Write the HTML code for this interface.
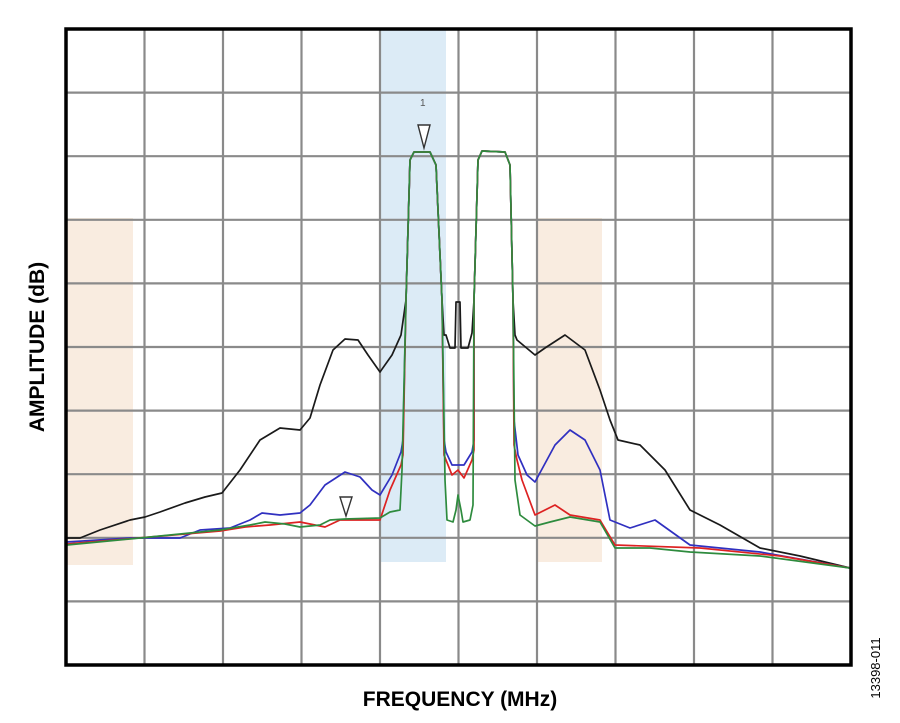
<!DOCTYPE html>
<html><head><style>
body{margin:0;background:#fff;width:900px;height:718px;overflow:hidden}
</style></head><body>
<svg width="900" height="718" viewBox="0 0 900 718" xmlns="http://www.w3.org/2000/svg">
<rect x="380" y="30" width="66" height="532" fill="#dcebf6"/>
<rect x="67" y="218" width="66" height="347" fill="#f9ece0"/>
<rect x="536" y="218" width="66" height="344" fill="#f9ece0"/>
<g stroke="#8a8a8a" stroke-width="2.2" fill="none">
<path d="M144.5 29V665M223 29V665M301.5 29V665M380 29V665M458.5 29V665M537 29V665M615.5 29V665M694 29V665M772.5 29V665"/>
<path d="M66 92.6H851M66 156.2H851M66 219.8H851M66 283.4H851M66 347H851M66 410.6H851M66 474.2H851M66 537.8H851M66 601.4H851"/>
</g>
<g fill="none" stroke-width="1.7" stroke-linejoin="round">
<path stroke="#1a1a1a" d="M67 538L80 538L100 530L130 520L145 517L160 512L185 503L205 497L222 493L240 470L260 440L280 428L300 430L310 418L320 385L333 350L345 339L358 340L368 355L380 372L392 355L401 335L406 300L410 160L414 152L430 152L436 165L442 300L444 335L446 335L450 348L455 348L456 302L460 302L461 348L468 348L472 333L474 300L478 160L482 151L505 152L510 165L513 300L515 335L517 340L535 355L545 348L565 335L585 350L600 390L610 420L618 440L640 445L665 470L690 510L720 525L760 548L800 556L850 568"/>
<path stroke="#3030c0" d="M67 542L130 538L180 538L200 530L230 528L250 520L262 513L280 515L300 513L310 505L325 485L345 472L360 477L372 490L380 495L392 475L401 452L403 440L406 300L410 160L414 152L430 152L436 165L442 300L444 440L446 452L452 465L458 465L464 465L472 452L474 440L474 300L478 160L482 151L505 152L510 165L513 300L514 420L518 455L527 475L535 482L555 445L570 430L585 440L600 470L610 520L630 528L655 520L690 545L760 552L850 568"/>
<path stroke="#d22" d="M67 544L150 537L220 531L245 527L270 525L300 522L325 527L340 520L365 520L380 520L390 490L401 465L403 455L406 300L410 160L414 152L430 152L436 165L442 300L444 455L446 460L452 475L458 470L464 478L472 460L474 450L474 300L478 160L482 151L505 152L510 165L513 300L514 445L517 460L522 480L535 515L555 505L570 515L600 520L615 545L700 548L780 556L850 568"/>
<path stroke="#2e8b3e" d="M67 545L150 537L220 530L250 525L265 522L285 524L300 527L320 525L330 520L345 519L380 518L390 512L400 510L402 470L406 300L410 160L414 152L430 152L436 165L442 300L445 480L447 520L453 522L456 510L458 495L461 510L463 522L470 520L473 505L474 300L478 160L482 151L505 152L510 165L513 300L515 480L520 515L535 526L550 522L570 517L600 522L615 548L650 548L690 552L760 556L850 568"/>
</g>
<path d="M418 125L430 125L424 148Z" fill="#fff" stroke="#333" stroke-width="1.4"/>
<text x="420" y="106" font-family="Liberation Sans, sans-serif" font-size="10" fill="#555">1</text>
<path d="M340 497L352 497L346 516Z" fill="#fff" stroke="#333" stroke-width="1.4"/>
<rect x="66" y="29" width="785" height="636" fill="none" stroke="#000" stroke-width="3.5"/>
<text x="460" y="706" text-anchor="middle" font-family="Liberation Sans, sans-serif" font-weight="bold" font-size="21">FREQUENCY (MHz)</text>
<text transform="translate(44,347) rotate(-90)" text-anchor="middle" font-family="Liberation Sans, sans-serif" font-weight="bold" font-size="21">AMPLITUDE (dB)</text>
<text transform="translate(880,668) rotate(-90)" text-anchor="middle" font-family="Liberation Sans, sans-serif" font-size="13">13398-011</text>
</svg>
</body></html>
